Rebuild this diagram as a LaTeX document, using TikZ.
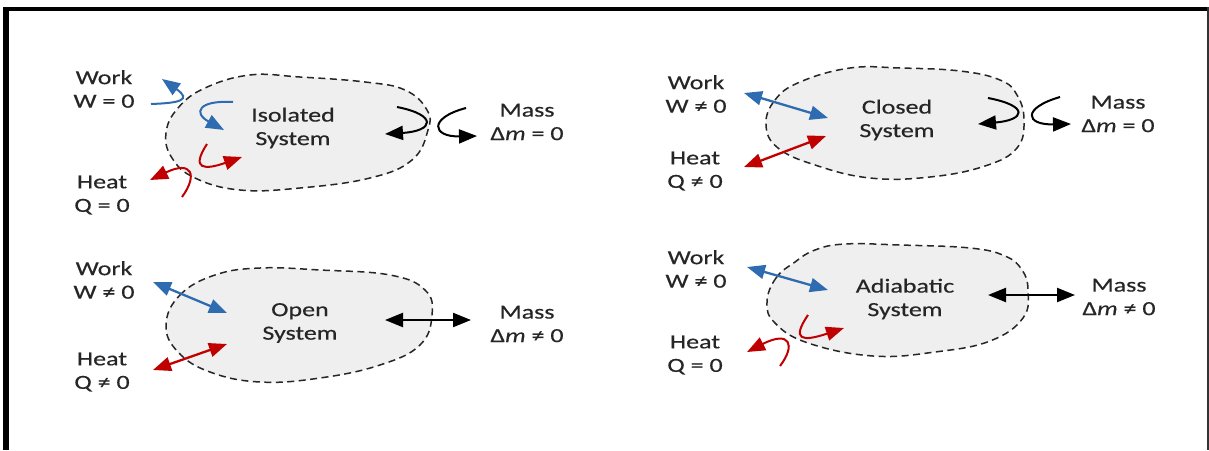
\documentclass[tikz,border=0pt]{standalone}
\usepackage{fontspec}
\setmainfont{Carlito}[FakeStretch=1.3,FakeBold=0.4]
\usetikzlibrary{arrows.meta}
\definecolor{wblue}{HTML}{2E6BB0}
\definecolor{hred}{HTML}{C00000}
\definecolor{blobfill}{HTML}{EFEFEF}
\tikzset{
  blob/.style={draw=black!85, fill=blobfill, line width=1.5pt, dash pattern=on 7pt off 4.5pt},
  lbl/.style={align=center, text=black!85, font=\fontsize{20}{23.5}\selectfont, inner sep=0pt},
  hd/.style={-{Triangle[length=18pt,width=14pt]}},
  dbl/.style={{Triangle[length=18pt,width=14pt]}-{Triangle[length=18pt,width=14pt]}},
  workar/.style={draw=wblue, line width=2.3pt},
  heatar/.style={draw=hred, line width=2.3pt},
  massar/.style={draw=black, line width=2.3pt},
  sq/.style={line width=2pt},
}
\begin{document}
\begin{tikzpicture}[x=1pt,y=-1pt]
\useasboundingbox (0,0) rectangle (1209,450);
\fill[white] (0,0) rectangle (1209,450);
% frame
\fill[black] (3,7) rectangle (1209,10.5);
\fill[black] (3,7) rectangle (9,450);
\fill[black!80] (1206.5,7) rectangle (1208.5,450);

% blobs
\draw[blob] plot[smooth cycle, tension=0.7] coordinates {(166,133) (178,108) (205,88) (250,75) (300,77) (365,82) (405,90) (427,110) (428,130) (412,160) (370,178) (300,188) (240,190) (195,178) (172,158)};
\draw[blob] plot[smooth cycle, tension=0.7] coordinates {(766,125) (775,100) (800,82) (850,68) (900,68) (960,71) (1000,80) (1017,95) (1024,120) (1017,148) (985,166) (930,177) (870,178) (815,165) (778,148)};
\draw[blob] plot[smooth cycle, tension=0.7] coordinates {(166,325) (180,295) (215,275) (260,268) (320,270) (390,275) (425,290) (432,315) (420,345) (380,365) (320,378) (260,382) (210,372) (178,352)};
\draw[blob] plot[smooth cycle, tension=0.7] coordinates {(767,302) (776,278) (795,262) (815,250) (845,244) (900,245) (970,248) (1005,256) (1022,270) (1028,290) (1023,318) (990,341) (935,352) (873,356) (808,343) (775,323)};

% Isolated
\node[lbl] (isoW) at (104,89) {Work\\W = 0};
\node[lbl] (isoH) at (102,195) {Heat\\Q = 0};
\node[lbl] (isoM) at (527,122) {Mass\\Δ\textit{m} = 0};
\node[lbl] (isoS) at (293,128) {Isolated\\System};
\draw[workar,sq,hd] (151,104) .. controls (180,103) and (192,100) .. (162,79);
\draw[workar,sq,hd] (233,102) .. controls (198,100) and (193,113) .. (224,130);
\draw[heatar,sq,hd] (207,144) .. controls (190,170) and (205,170) .. (242,157);
\draw[heatar,sq,hd] (182,197) .. controls (198,175) and (192,160) .. (150,180);
\draw[massar,sq,hd] (397,107) .. controls (438,115) and (434,131) .. (385,134);
\draw[massar,sq,hd] (466,108) .. controls (428,118) and (432,137) .. (477,136);

% Closed
\node[lbl] (clW) at (696,94) {Work\\W ≠ 0};
\node[lbl] (clH) at (695,171) {Heat\\Q ≠ 0};
\node[lbl] (clM) at (1118,114) {Mass\\Δ\textit{m} = 0};
\node[lbl] (clS) at (897,120) {Closed\\System};
\draw[workar,dbl] (744,93) -- (828,118);
\draw[heatar,dbl] (744,167) -- (826,136);
\draw[massar,sq,hd] (988,98) .. controls (1030,106) and (1025,120) .. (978,124);
\draw[massar,sq,hd] (1060,97) .. controls (1022,108) and (1025,125) .. (1071,124);

% Open
\node[lbl] (opW) at (104,280) {Work\\W ≠ 0};
\node[lbl] (opH) at (102,372) {Heat\\Q ≠ 0};
\node[lbl] (opM) at (527,324) {Mass\\Δ\textit{m} ≠ 0};
\node[lbl] (opS) at (300,323) {Open\\System};
\draw[workar,dbl] (153,282) -- (227,313);
\draw[heatar,dbl] (153,370) -- (227,344);
\draw[massar,dbl] (385,320) -- (471,320);

% Adiabatic
\node[lbl] (adW) at (696,269) {Work\\W ≠ 0};
\node[lbl] (adH) at (695,355) {Heat\\Q = 0};
\node[lbl] (adM) at (1119,297) {Mass\\Δ\textit{m} ≠ 0};
\node[lbl] (adS) at (905,299) {Adiabatic\\System};
\draw[workar,dbl] (747,267) -- (828,290);
\draw[heatar,sq,hd] (808,315) .. controls (791,340) and (802,342) .. (844,328);
\draw[heatar,sq,hd] (780,366) .. controls (796,345) and (790,330) .. (747,352);
\draw[massar,dbl] (988,295) -- (1075,295);
\end{tikzpicture}
\end{document}
